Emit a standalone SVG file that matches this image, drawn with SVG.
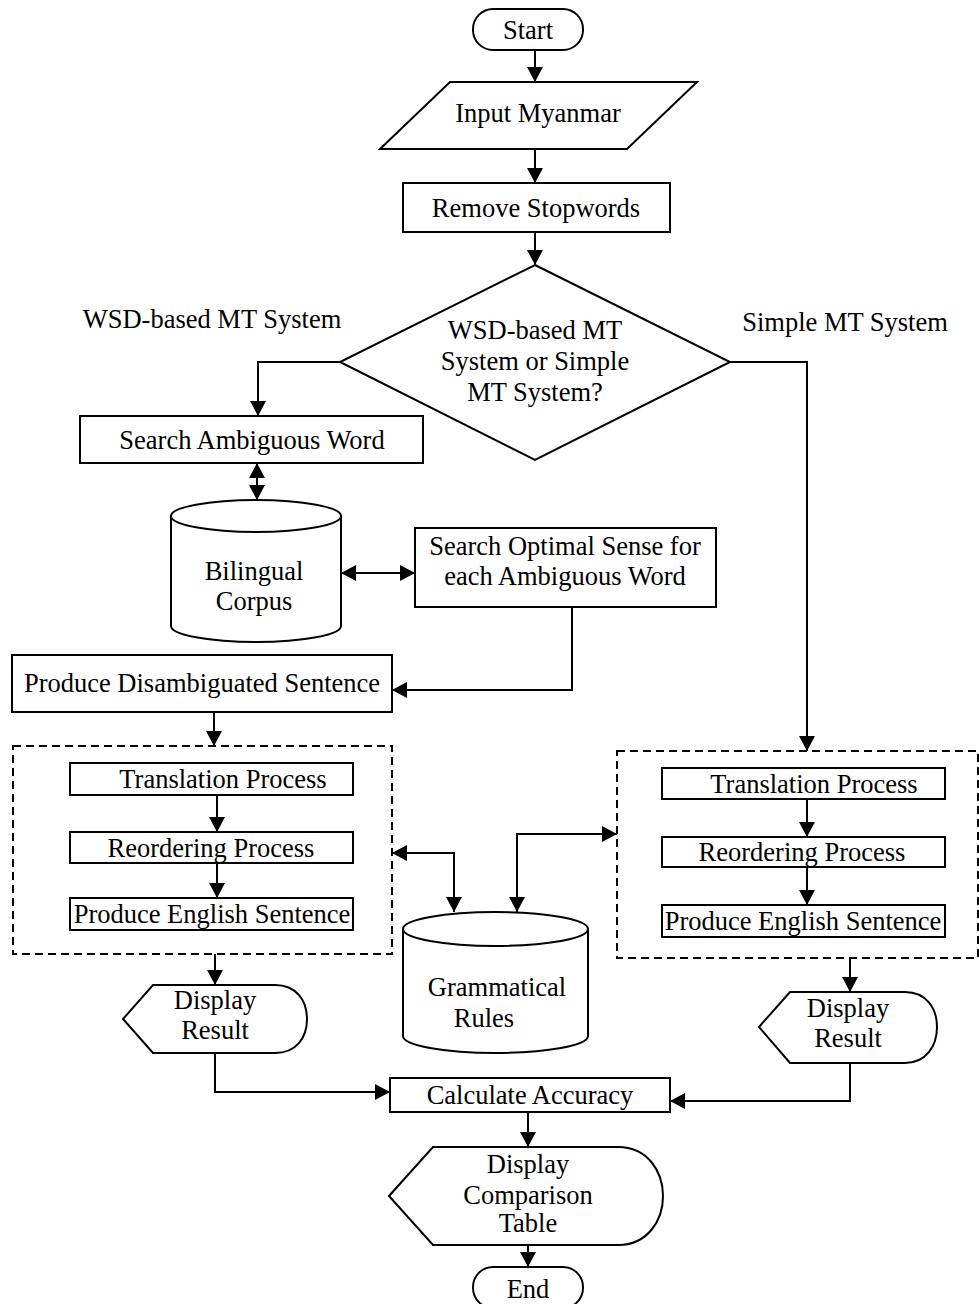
<svg xmlns="http://www.w3.org/2000/svg" width="979" height="1304" viewBox="0 0 979 1304">
<style>
.s{fill:#fff;stroke:#000;stroke-width:2}
.d{fill:none;stroke:#000;stroke-width:2;stroke-dasharray:8,5}
.c{fill:none;stroke:#000;stroke-width:2}
text{font-family:"Liberation Serif","Times New Roman",serif;font-size:26.5px;fill:#000;text-anchor:middle}
</style>
<defs>
<marker id="a" viewBox="0 0 15 16" refX="15" refY="8" markerWidth="15" markerHeight="16" markerUnits="userSpaceOnUse" orient="auto-start-reverse"><path d="M0,0 L15,8 L0,16 Z" fill="#000"/></marker>
</defs>
<rect width="979" height="1304" fill="#fff"/>
<g id="start"><rect class="s" x="473" y="9" width="110" height="41" rx="20"/><text x="528" y="39">Start</text></g>
<g id="input"><path class="s" d="M450,82 L697,82 L627,149 L380,149 Z"/><text x="538" y="122">Input Myanmar</text></g>
<g id="remove"><rect class="s" x="403" y="183" width="267" height="49"/><text x="536" y="217">Remove Stopwords</text></g>
<g id="decision"><path class="s" d="M535,265 L730,362 L535,460 L340,362 Z"/><text x="535" y="339">WSD-based MT</text><text x="535" y="370">System or Simple</text><text x="535" y="401">MT System?</text></g>
<g id="lbl-wsd"><text x="212" y="328">WSD-based MT System</text></g>
<g id="lbl-simple"><text x="845" y="331">Simple MT System</text></g>
<g id="search-amb"><rect class="s" x="80" y="416" width="343" height="47"/><text x="252" y="449">Search Ambiguous Word</text></g>
<g id="bilingual"><path class="s" d="M171,516 L171,626 A85,16 0 0 0 341,626 L341,516"/><ellipse class="s" cx="256" cy="516" rx="85" ry="16"/><text x="254" y="580">Bilingual</text><text x="254" y="610">Corpus</text></g>
<g id="search-opt"><rect class="s" x="415" y="528" width="301" height="79"/><text x="565" y="555">Search Optimal Sense for</text><text x="565" y="585">each Ambiguous Word</text></g>
<g id="produce-dis"><rect class="s" x="12" y="655" width="380" height="57"/><text x="202" y="692">Produce Disambiguated Sentence</text></g>
<g id="wsd-box"><rect class="d" x="13" y="746" width="379" height="208"/>
<rect class="s" x="70" y="763" width="283" height="32"/><text x="223" y="788">Translation Process</text>
<rect class="s" x="70" y="832" width="283" height="31"/><text x="211" y="857">Reordering Process</text>
<rect class="s" x="70" y="898" width="283" height="32"/><text x="212" y="923">Produce English Sentence</text></g>
<g id="simple-box"><rect class="d" x="617" y="751" width="361" height="207"/>
<rect class="s" x="662" y="768" width="283" height="31"/><text x="814" y="793">Translation Process</text>
<rect class="s" x="662" y="837" width="283" height="30"/><text x="802" y="861">Reordering Process</text>
<rect class="s" x="662" y="905" width="283" height="32"/><text x="803" y="930">Produce English Sentence</text></g>
<g id="grammar"><path class="s" d="M403,929 L403,1036 A92.5,17 0 0 0 588,1036 L588,929"/><ellipse class="s" cx="495.5" cy="929" rx="92.5" ry="17"/><text x="497" y="996">Grammatical</text><text x="484" y="1027">Rules</text></g>
<g id="display1"><path class="s" d="M123,1019 L153,985 L275,985 C296,985 307,1000 307,1019 C307,1038 296,1053 275,1053 L153,1053 Z"/><text x="215" y="1009">Display</text><text x="215" y="1039">Result</text></g>
<g id="display2"><path class="s" d="M759,1027 L790,992 L905,992 C926,992 937,1008 937,1027 C937,1046 926,1063 905,1063 L790,1063 Z"/><text x="848" y="1017">Display</text><text x="848" y="1047">Result</text></g>
<g id="calc"><rect class="s" x="390" y="1078" width="280" height="34"/><text x="530" y="1104">Calculate Accuracy</text></g>
<g id="display3"><path class="s" d="M389,1196 L433,1147 L618,1147 C648,1147 663,1172 663,1196 C663,1220 648,1245 618,1245 L433,1245 Z"/><text x="528" y="1173">Display</text><text x="528" y="1204">Comparison</text><text x="528" y="1232">Table</text></g>
<g id="end"><rect class="s" x="473" y="1267" width="110" height="41" rx="20"/><text x="528" y="1298">End</text></g>
<g id="connectors" class="c">
<path class="c" d="M535,50 L535,82" marker-end="url(#a)"/>
<path class="c" d="M535,149 L535,183" marker-end="url(#a)"/>
<path class="c" d="M535,232 L535,265" marker-end="url(#a)"/>
<path class="c" d="M340,362 L258,362 L258,416" marker-end="url(#a)"/>
<path class="c" d="M257,463 L257,500" marker-start="url(#a)" marker-end="url(#a)"/>
<path class="c" d="M341,573 L415,573" marker-start="url(#a)" marker-end="url(#a)"/>
<path class="c" d="M572,607 L572,690 L392,690" marker-end="url(#a)"/>
<path class="c" d="M214,712 L214,746" marker-end="url(#a)"/>
<path class="c" d="M217,795 L217,832" marker-end="url(#a)"/>
<path class="c" d="M217,863 L217,898" marker-end="url(#a)"/>
<path class="c" d="M730,362 L807,362 L807,751" marker-end="url(#a)"/>
<path class="c" d="M807,799 L807,837" marker-end="url(#a)"/>
<path class="c" d="M807,867 L807,905" marker-end="url(#a)"/>
<path class="c" d="M392,853 L454,853 L454,912" marker-start="url(#a)" marker-end="url(#a)"/>
<path class="c" d="M517,912 L517,834 L617,834" marker-start="url(#a)" marker-end="url(#a)"/>
<path class="c" d="M215,954 L215,985" marker-end="url(#a)"/>
<path class="c" d="M850,958 L850,992" marker-end="url(#a)"/>
<path class="c" d="M215,1053 L215,1092 L390,1092" marker-end="url(#a)"/>
<path class="c" d="M850,1063 L850,1101 L670,1101" marker-end="url(#a)"/>
<path class="c" d="M528,1112 L528,1147" marker-end="url(#a)"/>
<path class="c" d="M528,1245 L528,1267" marker-end="url(#a)"/>
</g>
</svg>
